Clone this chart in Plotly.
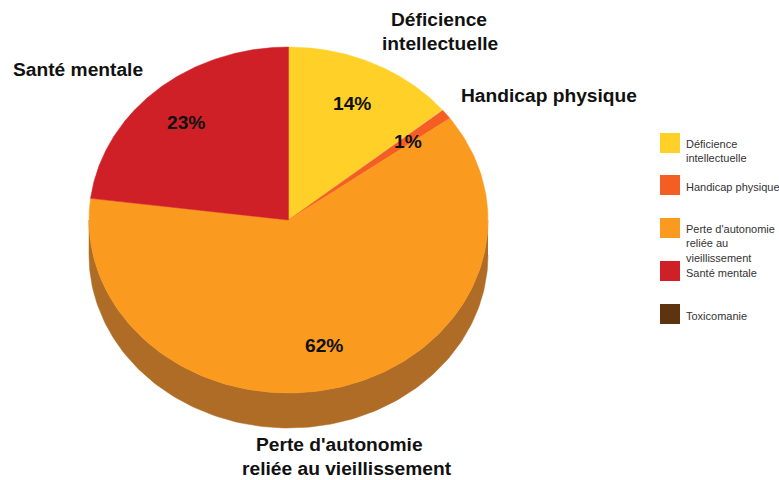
import numpy as np
import plotly.graph_objects as go

# --- data ---
categories = ["Déficience intellectuelle", "Handicap physique",
              "Perte d'autonomie reliée au vieillissement", "Santé mentale", "Toxicomanie"]
values = [14, 1, 62, 23, 0]
colors = ["#FFD128", "#F55E23", "#FA9A1E", "#D02027", "#5E3410"]
side_colors = ["#B39320", "#AF4A1E", "#AE6C27", "#931A1E", "#402408"]
outer_labels = [["Déficience", "intellectuelle"], ["Handicap physique"],
                ["Perte d'autonomie", "reliée au vieillissement"], ["Santé mentale"], []]
legend_labels = ["Déficience<br>intellectuelle", "Handicap physique",
                 "Perte d'autonomie<br>reliée au<br>vieillissement", "Santé mentale", "Toxicomanie"]

# --- layout constants (pixels in the 779x480 page) ---
CX, CY, RX, RY, DEPTH = 288.5, 220, 199.5, 173, 35
FONT = "Liberation Sans, Arial, sans-serif"
outer_pos = [[(438.5, 19), (440.5, 43)], [(549, 95)], [(339.5, 444), (346.5, 468)], [(78, 69)], []]
pct_pos = [(352, 103), (408, 141), (324, 345), (186, 122), None]
legend_y = [143, 185, 228, 271, 314]
legend_text_y = [150.5, 187, 243, 273, 316]
LEG_X, LEG_TX = 670, 686
TEXT = "#111111"


def pt(a, dy=0.0):
    return CX + RX * np.sin(a), CY - RY * np.cos(a) + dy


fig = go.Figure()
total = sum(values)
edges = np.cumsum([0] + values) / total * 2 * np.pi

# extruded side (only the front half of the pie is visible)
for i in range(len(values)):
    a0, a1 = max(edges[i], np.pi / 2), min(edges[i + 1], 3 * np.pi / 2)
    if a1 <= a0:
        continue
    t = np.linspace(a0, a1, 160)
    xt, yt = pt(t)
    xb, yb = pt(t[::-1], DEPTH)
    fig.add_trace(go.Scatter(x=np.r_[xt, xb], y=np.r_[yt, yb], mode="lines", fill="toself",
                             fillcolor=side_colors[i], line=dict(color=side_colors[i], width=0.5),
                             hoverinfo="skip", showlegend=False))

# top surface
for i in range(len(values)):
    if values[i] == 0:
        continue
    t = np.linspace(edges[i], edges[i + 1], 200)
    xs, ys = pt(t)
    fig.add_trace(go.Scatter(x=np.r_[CX, xs, CX], y=np.r_[CY, ys, CY], mode="lines", fill="toself",
                             fillcolor=colors[i], line=dict(color=colors[i], width=0.5),
                             name=categories[i], hoverinfo="name", showlegend=False))

# legend swatches
fig.add_trace(go.Scatter(x=[LEG_X] * len(categories), y=legend_y, mode="markers",
                         marker=dict(symbol="square", size=20, color=colors, line=dict(width=0)),
                         text=categories, hoverinfo="text", showlegend=False))

ann = []
for i in range(len(categories)):
    for line, (px, py) in zip(outer_labels[i], outer_pos[i]):
        ann.append(dict(x=px, y=py, text=f"<b>{line}</b>",
                        font=dict(size=19.2, color=TEXT, family=FONT), showarrow=False,
                        xanchor="center", yanchor="middle"))
    if pct_pos[i]:
        ann.append(dict(x=pct_pos[i][0], y=pct_pos[i][1], text=f"<b>{values[i]}%</b>",
                        font=dict(size=19.2, color=TEXT, family=FONT), showarrow=False,
                        xanchor="center", yanchor="middle"))
    ann.append(dict(x=LEG_TX, y=legend_text_y[i], text=legend_labels[i], align="left",
                    font=dict(size=11, color="#333333", family=FONT), showarrow=False,
                    xanchor="left", yanchor="middle", xshift=-2))

fig.update_layout(
    width=779, height=480, margin=dict(l=0, r=0, t=0, b=0),
    paper_bgcolor="white", plot_bgcolor="white", annotations=ann,
    xaxis=dict(range=[0, 779], visible=False, fixedrange=True),
    yaxis=dict(range=[480, 0], visible=False, fixedrange=True),
)
fig.write_html("out.html", post_script="document.body.style.margin='0';",
               config={"displayModeBar": False})
